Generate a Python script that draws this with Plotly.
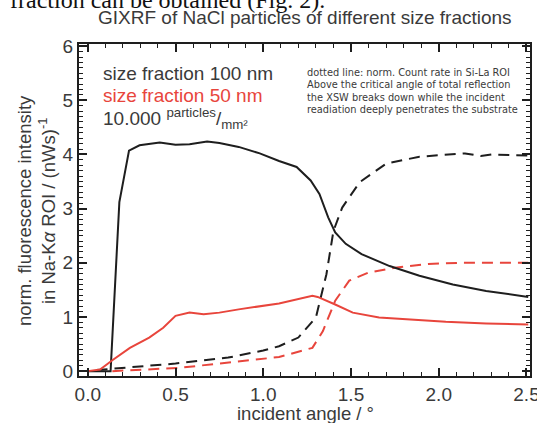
import plotly.graph_objects as go

# --- data ---
x_100 = [0.0, 0.13, 0.18, 0.235, 0.295, 0.41, 0.5, 0.58, 0.68, 0.75, 0.86, 0.98, 1.09, 1.19, 1.27, 1.32, 1.37, 1.41, 1.47, 1.56, 1.72, 1.89, 2.08, 2.27, 2.51]
y_100 = [0.0, 0.0, 3.12, 4.07, 4.17, 4.22, 4.18, 4.19, 4.24, 4.21, 4.14, 4.02, 3.88, 3.77, 3.52, 3.27, 2.84, 2.56, 2.35, 2.16, 1.94, 1.76, 1.6, 1.48, 1.37]

x_100_si = [0.05, 0.2, 0.5, 0.8, 1.0, 1.09, 1.2, 1.3, 1.36, 1.4, 1.45, 1.55, 1.7, 1.89, 2.15, 2.24, 2.3, 2.51]
y_100_si = [0.02, 0.06, 0.14, 0.25, 0.38, 0.46, 0.62, 0.99, 1.79, 2.59, 3.02, 3.49, 3.83, 3.96, 4.02, 3.97, 4.0, 3.98]

x_50 = [0.0, 0.07, 0.14, 0.24, 0.35, 0.43, 0.5, 0.58, 0.66, 0.75, 0.86, 0.98, 1.09, 1.28, 1.31, 1.41, 1.51, 1.66, 1.85, 2.04, 2.27, 2.51]
y_50 = [0.0, 0.03, 0.2, 0.43, 0.62, 0.8, 1.02, 1.08, 1.05, 1.08, 1.14, 1.2, 1.25, 1.39, 1.37, 1.23, 1.08, 0.99, 0.95, 0.91, 0.88, 0.86]

x_50_si = [0.14, 0.52, 1.09, 1.28, 1.34, 1.41, 1.49, 1.6, 1.75, 1.94, 2.13, 2.51]
y_50_si = [0.0, 0.06, 0.26, 0.43, 0.74, 1.3, 1.67, 1.82, 1.91, 1.98, 2.0, 2.0]

x_ticks = [0.0, 0.5, 1.0, 1.5, 2.0, 2.5]
x_tick_labels = ["0.0", "0.5", "1.0", "1.5", "2.0", "2.5"]
y_ticks = [0, 1, 2, 3, 4, 5, 6]

caption = "fraction can be obtained (Fig. 2)."
title = "GIXRF of NaCl particles of different size fractions"
legend_lines = ["size fraction 100 nm", "size fraction 50 nm", "10.000 <sup>particles</sup>/<sub>mm²</sub>"]
note_lines = ["dotted line: norm. Count rate in Si-La ROI",
              "Above the critical angle of total reflection",
              "the XSW breaks down while the incident",
              "readiation deeply penetrates the substrate"]

BLACK = "#1e1e1e"
RED = "#e8453c"
TXT = "#3a3a3a"
FONT = "Liberation Sans"

L, R, T, B = 79, 7, 44, 47
W, H = 537, 423
PW, PH = W - L - R, H - T - B

def px(xp):
    return (xp - L) / PW

def py(yp):
    return (H - B - yp) / PH

fig = go.Figure()
fig.add_trace(go.Scatter(x=x_100_si, y=y_100_si, mode="lines",
                         line=dict(color=BLACK, width=2, dash="11px,7px")))
fig.add_trace(go.Scatter(x=x_50_si, y=y_50_si, mode="lines",
                         line=dict(color=RED, width=2, dash="11px,7px")))
fig.add_trace(go.Scatter(x=x_100, y=y_100, mode="lines",
                         line=dict(color=BLACK, width=2)))
fig.add_trace(go.Scatter(x=x_50, y=y_50, mode="lines",
                         line=dict(color=RED, width=2)))

ann = []
# cropped caption text at the very top of the picture
ann.append(dict(text=caption, x=px(327), y=py(0),
                xref="paper", yref="paper", xanchor="right", yanchor="middle",
                showarrow=False, font=dict(family="Liberation Serif", size=24, color="#111")))
ann.append(dict(text=title, x=px(305), y=py(18), xref="paper", yref="paper",
                xanchor="center", yanchor="middle", showarrow=False,
                font=dict(family=FONT, size=19, color=TXT)))
leg_colors = [TXT, RED, TXT]
leg_y = [73, 95, 118]
for t, c, yy in zip(legend_lines, leg_colors, leg_y):
    ann.append(dict(text=t, x=px(101), y=py(yy), xref="paper", yref="paper",
                    xanchor="left", yanchor="middle", showarrow=False,
                    font=dict(family=FONT, size=19, color=c)))
note_y = [72, 84.5, 97, 109.5]
for t, yy in zip(note_lines, note_y):
    ann.append(dict(text=t, x=px(305), y=py(yy), xref="paper", yref="paper",
                    xanchor="left", yanchor="middle", showarrow=False,
                    font=dict(family="DejaVu Sans", size=9.8, color=TXT)))
ann.append(dict(text="norm. fluorescence intensity<br>in Na-K<i>α</i> ROI / (nWs)<sup>-1</sup>",
                x=px(36), y=py(211), xref="paper", yref="paper", textangle=-90,
                xanchor="center", yanchor="middle", showarrow=False,
                font=dict(family=FONT, size=18.5, color=TXT)))
ann.append(dict(text="incident angle / °", x=px(305), y=py(413), xref="paper", yref="paper",
                xanchor="center", yanchor="middle", showarrow=False,
                font=dict(family=FONT, size=18.5, color=TXT)))

axis_common = dict(showgrid=False, zeroline=False, showline=True, linecolor=BLACK,
                   linewidth=2, mirror="ticks", ticks="inside", ticklen=8,
                   tickwidth=1.5, tickcolor=BLACK, automargin=False,
                   ticklabeloverflow="allow",
                   tickfont=dict(family=FONT, size=19, color=TXT))

fig.update_layout(
    width=W, height=H, margin=dict(l=L, r=R, t=T, b=B),
    paper_bgcolor="white", plot_bgcolor="white", showlegend=False,
    annotations=ann,
    xaxis=dict(range=[-0.05, 2.52], tickvals=x_ticks, ticktext=x_tick_labels,
               minor=dict(dtick=0.1, tick0=0, ticks="inside", ticklen=4, tickcolor=BLACK, tickwidth=1),
               **axis_common),
    yaxis=dict(range=[-0.09, 6.04], tickvals=y_ticks,
               minor=dict(dtick=0.1, tick0=0, ticks="inside", ticklen=4, tickcolor=BLACK, tickwidth=1),
               **axis_common),
)

fig.write_html("out.html", config={"displayModeBar": False},
               post_script="document.body.style.margin='0px';")
